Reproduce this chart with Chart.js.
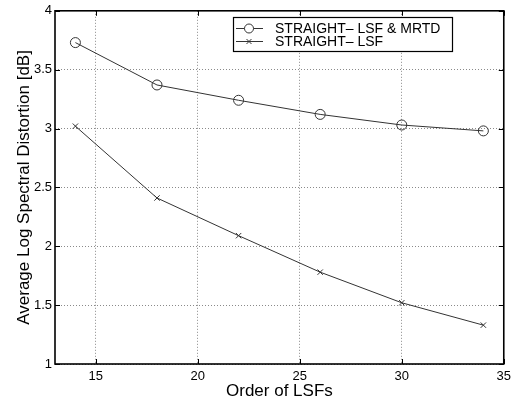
<!DOCTYPE html>
<html>
<head>
<meta charset="utf-8">
<script src="https://cdn.jsdelivr.net/npm/chart.js@4/dist/chart.umd.min.js"></script>
<style>
  html, body { margin: 0; padding: 0; background: #fff; }
  #wrap { width: 516px; height: 402px; }
</style>
</head>
<body>
<div id="wrap"><canvas id="chart" width="516" height="402"></canvas></div>
<script>
// data
const orders = [14, 18, 22, 26, 30, 34];
const mrtdValues = [3.73, 3.37, 3.24, 3.12, 3.03, 2.98];
const lsfValues = [3.02, 2.41, 2.09, 1.78, 1.52, 1.33];
const xTicks = [15, 20, 25, 30, 35];
const yTicks = [1, 1.5, 2, 2.5, 3, 3.5, 4];
const seriesNames = ['STRAIGHT\u2013 LSF & MRTD', 'STRAIGHT\u2013 LSF'];
const seriesMarkers = ['circle', 'crossRot'];

const FONT = '"Liberation Sans", Arial, Helvetica, sans-serif';

// box round the plot, inward ticks, legend box inside the axes
const matlabFrame = {
  id: 'matlabFrame',
  afterDraw(chart) {
    const { ctx, chartArea: a, scales } = chart;
    ctx.save();
    ctx.strokeStyle = '#000';
    ctx.lineWidth = 1;
    // inward tick marks on all four sides
    ctx.beginPath();
    xTicks.forEach(v => {
      const x = Math.round(scales.x.getPixelForValue(v)) + 0.5;
      ctx.moveTo(x, a.bottom); ctx.lineTo(x, a.bottom - 5);
      ctx.moveTo(x, a.top); ctx.lineTo(x, a.top + 5);
    });
    yTicks.forEach(v => {
      const y = Math.round(scales.y.getPixelForValue(v)) + 0.5;
      ctx.moveTo(a.left, y); ctx.lineTo(a.left + 5, y);
      ctx.moveTo(a.right, y); ctx.lineTo(a.right - 5, y);
    });
    ctx.stroke();
    ctx.lineWidth = 1.6;
    ctx.strokeRect(a.left, a.top, a.right - a.left, a.bottom - a.top);

    // legend
    const lx = 233, ly = 17, lw = 219, lh = 34;
    ctx.fillStyle = '#fff';
    ctx.fillRect(lx, ly, lw, lh);
    ctx.lineWidth = 1.2;
    ctx.strokeRect(lx + 0.5, ly + 0.5, lw, lh);
    ctx.font = '14px ' + FONT;
    ctx.textBaseline = 'middle';
    seriesNames.forEach((name, i) => {
      const y = ly + 11.5 + i * 13;
      ctx.strokeStyle = '#333';
      ctx.lineWidth = 1;
      ctx.beginPath();
      ctx.moveTo(lx + 3, y); ctx.lineTo(lx + 30, y);
      ctx.stroke();
      Chart.helpers.drawPoint(ctx, { pointStyle: seriesMarkers[i], radius: i === 0 ? 4.5 : 3.5, borderWidth: 1 }, lx + 16, y);
      ctx.fillStyle = '#000';
      ctx.fillText(name, lx + 42, y + 1);
    });
    ctx.restore();
  }
};

const datasets = [mrtdValues, lsfValues].map((vals, i) => ({
  label: seriesNames[i],
  data: orders.map((x, k) => ({ x: x, y: vals[k] })),
  borderColor: '#333',
  borderWidth: 1,
  pointStyle: seriesMarkers[i],
  pointRadius: i === 0 ? 5 : 3.8,
  pointBorderColor: '#333',
  pointBackgroundColor: 'rgba(0,0,0,0)',
  pointBorderWidth: 1,
  tension: 0
}));

const gridOpts = {
  color: '#8a8a8a',
  lineWidth: 1,
  drawTicks: false
};

new Chart(document.getElementById('chart'), {
  type: 'line',
  data: { datasets: datasets },
  options: {
    responsive: false,
    animation: false,
    layout: { padding: { top: 10, right: 12, left: 0, bottom: 0 } },
    plugins: { legend: { display: false }, tooltip: { enabled: false } },
    scales: {
      x: {
        type: 'linear',
        min: 13,
        max: 35,
        afterBuildTicks: s => { s.ticks = xTicks.map(v => ({ value: v })); },
        afterFit: s => { s.height = 38; },
        grid: gridOpts,
        border: { display: false, dash: [1, 2] },
        ticks: { color: '#000', padding: 5, font: { family: FONT, size: 13 }, maxRotation: 0 },
        title: { display: true, text: 'Order of LSFs', color: '#000', padding: { top: 0, bottom: 0 }, font: { family: FONT, size: 17 } }
      },
      y: {
        type: 'linear',
        min: 1,
        max: 4,
        afterBuildTicks: s => { s.ticks = yTicks.map(v => ({ value: v })); },
        afterFit: s => { s.width = 55; },
        grid: gridOpts,
        border: { display: false, dash: [1, 2] },
        ticks: { color: '#000', padding: 3, font: { family: FONT, size: 13 }, callback: v => String(v) },
        title: { display: true, text: 'Average Log Spectral Distortion [dB]', color: '#000', padding: { top: 14, bottom: 0 }, font: { family: FONT, size: 17 } }
      }
    }
  },
  plugins: [matlabFrame]
});
</script>
</body>
</html>
